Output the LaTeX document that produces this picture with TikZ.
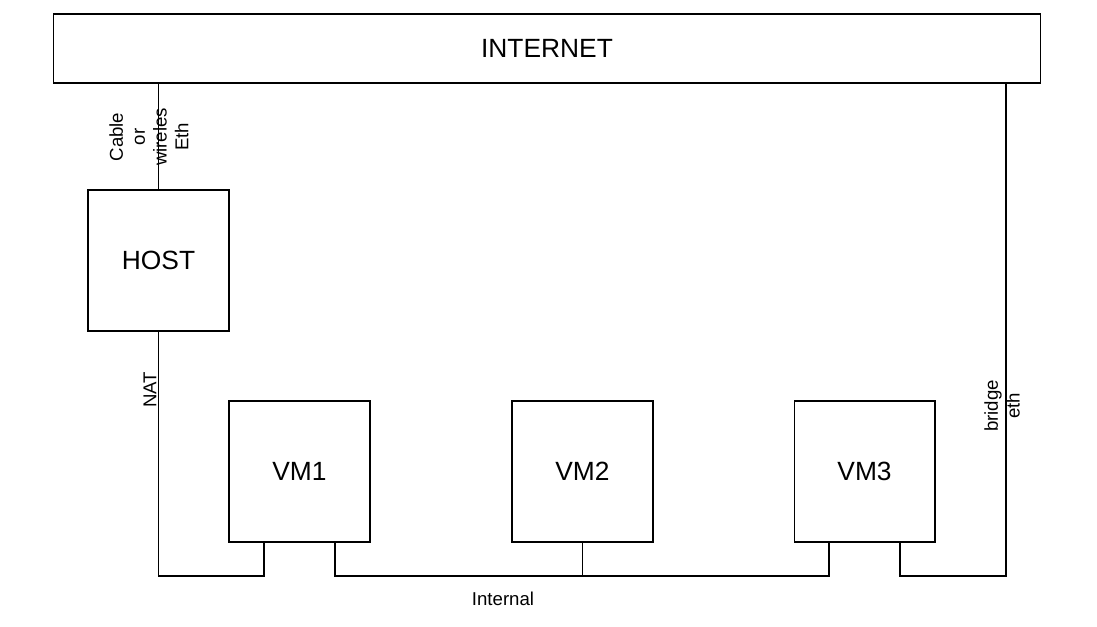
\documentclass[tikz,border=0pt]{standalone}
\usepackage{fontspec}
\setmainfont{Liberation Sans}
\usetikzlibrary{calc}

\begin{document}
\begin{tikzpicture}[
    x=0.02cm, y=-0.02cm,
    box/.style={
      draw=black,
      line width=0.6pt,
      minimum width=2.82cm,
      minimum height=2.82cm,
      inner sep=0pt,
      font=\fontsize{15}{18}\selectfont
    },
    wire/.style={line width=0.6pt,draw=black},
    tag/.style={font=\fontsize{10.6}{12.4}\selectfont,align=center,inner sep=1pt}
  ]
    \useasboundingbox (0,0) rectangle (1097,626);
    \node[box,minimum width=19.76cm,minimum height=1.38cm] (internet) at (547,48.5) {INTERNET};
    \node[box] (host) at (158.5,260.5) {HOST};
    \node[box] (vm1) at (299.5,471.5) {VM1};
    \node[box] (vm2) at (582.5,471.5) {VM2};
    \node[box] (vm3) at (864.5,471.5) {VM3};
    % ports on the vm boxes and the internal bus
    \coordinate (vm1l) at ($(vm1.south)!0.5!(vm1.south west)$);
    \coordinate (vm1r) at ($(vm1.south)!0.5!(vm1.south east)$);
    \coordinate (vm3l) at ($(vm3.south)!0.5!(vm3.south west)$);
    \coordinate (vm3r) at ($(vm3.south)!0.5!(vm3.south east)$);
    \coordinate (lan) at (0,576);
    \coordinate (brx) at (1006,0);
    \draw[wire] (host.north) -- (host.north |- internet.south);
    \draw[wire] (host.south) |- (vm1l |- lan) -- (vm1l);
    \draw[wire] (vm1r) -- (vm1r |- lan) -- (vm3l |- lan) -- (vm3l);
    \draw[wire] (vm2.south) -- (vm2.south |- lan);
    \draw[wire] (vm3r) -- (vm3r |- lan) -| (brx |- internet.south);
    % labels
    \node[tag,rotate=90] (cable) at (149,137) {Cable\\or\\wireles\\Eth};
    \node[tag,rotate=90,anchor=south] (nat) at (host.south |- 0,390) {NAT};
    \node[tag,rotate=90] (bridge) at (1002,406) {bridge\\eth};
    \node[tag] (internal) at (503,599) {Internal};
  \end{tikzpicture}
\end{document}
